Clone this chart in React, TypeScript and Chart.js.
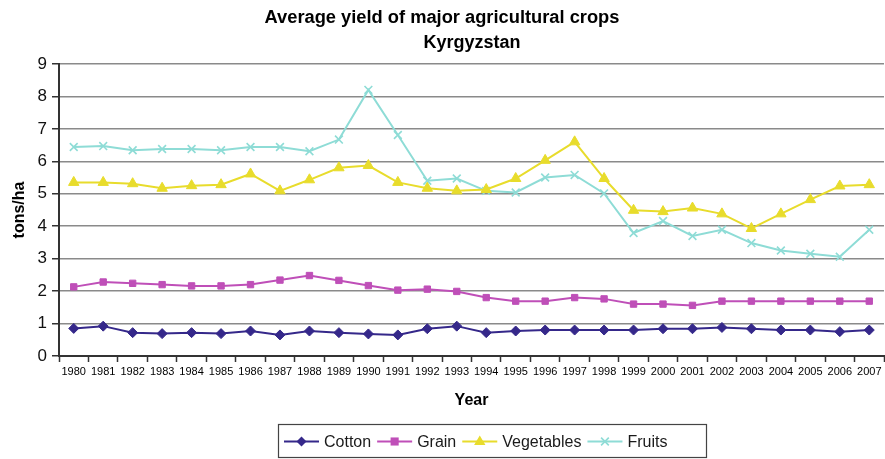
import React, { useEffect, useRef } from "react";
import { Chart, registerables } from "chart.js";

Chart.register(...registerables);

const years = [
  "1980", "1981", "1982", "1983", "1984", "1985", "1986", "1987", "1988", "1989",
  "1990", "1991", "1992", "1993", "1994", "1995", "1996", "1997", "1998", "1999",
  "2000", "2001", "2002", "2003", "2004", "2005", "2006", "2007",
];

const cotton = [
  0.85, 0.92, 0.72, 0.69, 0.72, 0.69, 0.77, 0.65, 0.77, 0.72,
  0.68, 0.65, 0.84, 0.92, 0.72, 0.77, 0.8, 0.8, 0.8, 0.8,
  0.84, 0.84, 0.88, 0.84, 0.8, 0.8, 0.75, 0.8,
];

const grain = [
  2.13, 2.28, 2.24, 2.2, 2.16, 2.16, 2.2, 2.34, 2.48, 2.33,
  2.17, 2.03, 2.06, 1.99, 1.8, 1.69, 1.69, 1.8, 1.76, 1.6,
  1.6, 1.56, 1.69, 1.69, 1.69, 1.69, 1.69, 1.69,
];

const vegetables = [
  5.35, 5.35, 5.31, 5.17, 5.25, 5.28, 5.61, 5.09, 5.43, 5.8,
  5.87, 5.35, 5.17, 5.09, 5.13, 5.47, 6.03, 6.6, 5.47, 4.49,
  4.45, 4.56, 4.38, 3.93, 4.38, 4.82, 5.24, 5.28,
];

const fruits = [
  6.44, 6.47, 6.34, 6.38, 6.38, 6.34, 6.44, 6.44, 6.31, 6.67,
  8.2, 6.81, 5.4, 5.47, 5.09, 5.04, 5.5, 5.58, 5.01, 3.79,
  4.16, 3.7, 3.89, 3.48, 3.25, 3.15, 3.06, 3.89,
];

const yTicks = [0, 1, 2, 3, 4, 5, 6, 7, 8, 9];

const titleText = "Average yield of major agricultural crops";
const subtitleText = "Kyrgyzstan";
const seriesNames = ["Cotton", "Grain", "Vegetables", "Fruits"];
const seriesColors = ["#35288a", "#bf4fb8", "#e8dc2c", "#8edcd6"];
const seriesStyles = ["rectRot", "rect", "triangle", "crossRot"];
const seriesRadius = [5, 4.5, 6, 5.5];

const FONT = "'Liberation Sans', Arial, Helvetica, sans-serif";

function drawMarker(ctx: CanvasRenderingContext2D, style: string, r: number, x: number, y: number) {
  ctx.beginPath();
  if (style === "rectRot") {
    ctx.moveTo(x, y - r);
    ctx.lineTo(x + r, y);
    ctx.lineTo(x, y + r);
    ctx.lineTo(x - r, y);
    ctx.closePath();
    ctx.fill();
  } else if (style === "rect") {
    const s = r * 0.9;
    ctx.rect(x - s, y - s, s * 2, s * 2);
    ctx.fill();
  } else if (style === "triangle") {
    ctx.moveTo(x, y - r);
    ctx.lineTo(x + r * 0.95, y + r * 0.6);
    ctx.lineTo(x - r * 0.95, y + r * 0.6);
    ctx.closePath();
    ctx.fill();
  } else {
    const d = r * 0.7;
    ctx.moveTo(x - d, y - d);
    ctx.lineTo(x + d, y + d);
    ctx.moveTo(x + d, y - d);
    ctx.lineTo(x - d, y + d);
    ctx.stroke();
  }
}

const extrasPlugin = {
  id: "extras",
  afterDraw(chart: any) {
    const ctx = chart.ctx as CanvasRenderingContext2D;
    ctx.save();
    // subtitle
    ctx.font = `bold 18px ${FONT}`;
    ctx.fillStyle = "#000";
    ctx.textAlign = "center";
    ctx.textBaseline = "alphabetic";
    ctx.fillText(subtitleText, 472, 48);

    // legend
    ctx.font = `16px ${FONT}`;
    const lineLen = 35;
    const gapText = 5;
    const gapItem = 6;
    const boxL = 278.5;
    const boxT = 424.5;
    const boxW = 428;
    const boxH = 33;
    ctx.strokeStyle = "#444";
    ctx.lineWidth = 1.2;
    ctx.strokeRect(boxL, boxT, boxW, boxH);
    const cy = 441.5;
    let x = 284;
    chart.data.datasets.forEach((ds: any, i: number) => {
      ctx.strokeStyle = ds.borderColor;
      ctx.lineWidth = 2;
      ctx.beginPath();
      ctx.moveTo(x, cy);
      ctx.lineTo(x + lineLen, cy);
      ctx.stroke();
      ctx.fillStyle = ds.borderColor;
      ctx.lineWidth = seriesStyles[i] === "crossRot" ? 1.6 : 1;
      drawMarker(ctx, seriesStyles[i], seriesRadius[i], x + lineLen / 2, cy);
      x += lineLen + gapText;
      ctx.fillStyle = "#1a1a1a";
      ctx.textBaseline = "middle";
      ctx.textAlign = "left";
      ctx.fillText(seriesNames[i], x, cy + 1);
      x += ctx.measureText(seriesNames[i]).width + gapItem;
    });
    ctx.restore();
  },
};

export default function App() {
  const ref = useRef<HTMLCanvasElement>(null);

  useEffect(() => {
    document.body.style.margin = "0";
    const seriesData = [cotton, grain, vegetables, fruits];
    const chart = new Chart(ref.current as HTMLCanvasElement, {
      type: "line",
      data: {
        labels: years,
        datasets: seriesNames.map((name, i) => ({
          label: name,
          data: seriesData[i],
          borderColor: seriesColors[i],
          backgroundColor: seriesColors[i],
          pointBackgroundColor: seriesColors[i],
          pointBorderColor: seriesColors[i],
          pointBorderWidth: seriesStyles[i] === "crossRot" ? 1.6 : 1,
          pointStyle: seriesStyles[i] as any,
          pointRadius: seriesRadius[i],
          borderWidth: 2,
          tension: 0,
          fill: false,
        })),
      },
      options: {
        responsive: false,
        animation: false,
        layout: { autoPadding: false, padding: { left: 0, right: 1, top: 0, bottom: 49 } },
        plugins: {
          legend: { display: false },
          tooltip: { enabled: false },
          title: {
            display: true,
            text: titleText,
            color: "#000",
            font: { family: FONT, size: 18.3, weight: "bold" },
            padding: { top: 7, bottom: 35 },
          },
        },
        scales: {
          x: {
            type: "category",
            offset: true,
            grid: {
              display: true,
              drawOnChartArea: false,
              drawTicks: true,
              tickLength: 6,
              offset: true,
              tickColor: "#333",
              tickWidth: 1.5,
            },
            border: { display: true, color: "#333", width: 2 },
            ticks: {
              color: "#000",
              font: { family: FONT, size: 11 },
              maxRotation: 0,
              autoSkip: false,
              padding: 3,
            },
            title: {
              display: true,
              text: "Year",
              color: "#000",
              font: { family: FONT, size: 16, weight: "bold" },
              padding: 0,
            },
            afterFit: (s: any) => {
              s.height = 54;
              s.paddingLeft = 0;
              s.paddingRight = 0;
            },
          },
          y: {
            min: 0,
            max: 9,
            afterBuildTicks: (s: any) => {
              s.ticks = yTicks.map((v) => ({ value: v }));
            },
            grid: {
              color: "#8a8a8a",
              lineWidth: 1.5,
              tickLength: 7,
              tickColor: "#333",
              tickWidth: 1.5,
            },
            border: { display: true, color: "#333", width: 2 },
            ticks: {
              color: "#111",
              font: { family: FONT, size: 17 },
              padding: 5,
            },
            title: {
              display: true,
              text: "tons/ha",
              color: "#000",
              font: { family: FONT, size: 16, weight: "bold" },
              padding: { top: 10, bottom: 0 },
            },
            afterFit: (s: any) => {
              s.width = 59;
            },
          },
        },
      },
      plugins: [extrasPlugin],
    });
    return () => chart.destroy();
  }, []);

  return <canvas ref={ref} width={885} height={459} style={{ display: "block" }} />;
}
